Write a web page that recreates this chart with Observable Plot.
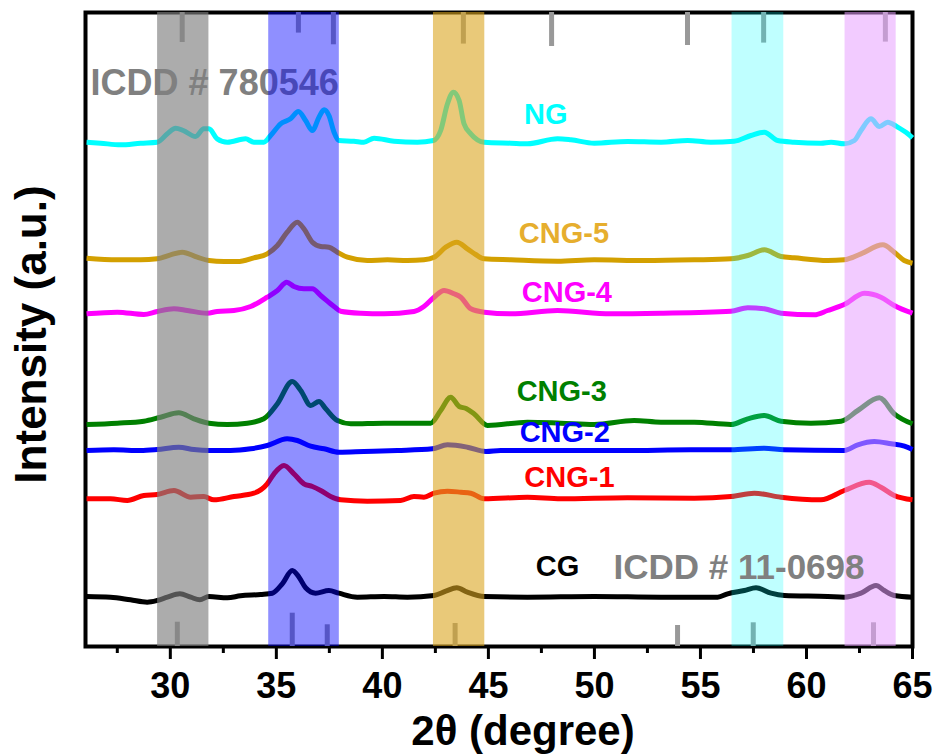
<!DOCTYPE html>
<html>
<head>
<meta charset="utf-8">
<script src="https://cdn.jsdelivr.net/npm/d3@7"></script>
<script src="https://cdn.jsdelivr.net/npm/@observablehq/plot@0.6"></script>
<style>
  body { margin: 0; background: #fff; }
</style>
</head>
<body>
<div id="chart"></div>
<script>
// XRD patterns: [2θ (degree), intensity (a.u., stacked with offsets)]
const NG = [[26.05,504.3],[26.71,503.3],[27.65,501.7],[28.60,503.3],[29.38,504.3],[29.86,512.7],[30.25,518.3],[30.61,516],[31.19,510],[31.58,517.7],[31.82,517.7],[32.21,507.7],[32.69,504.3],[33.55,507.7],[33.94,504.3],[34.41,504.3],[34.73,511],[35.20,522.7],[35.67,527.7],[36.04,535],[36.38,526],[36.70,516],[37.01,529.3],[37.25,536.7],[37.48,531],[37.72,514.3],[37.95,506],[38.66,505.3],[39.13,504.3],[39.61,508.3],[40.55,505.3],[41.65,504.3],[42.41,506],[42.75,516],[43.07,542.7],[43.35,554.3],[43.62,546],[43.85,522.7],[44.17,512.7],[44.80,504.3],[46.06,503.3],[46.84,502.7],[48.26,507.7],[48.89,506.7],[49.99,503.3],[51.56,505],[53.14,504.3],[54.40,506],[55.49,504.3],[56.59,505.3],[57.38,511],[58.01,514.3],[58.64,506],[59.42,504.3],[60.68,503.3],[61.16,504.3],[61.78,502.7],[62.26,506],[62.57,516],[63.04,527.7],[63.44,520],[63.83,524.3],[64.30,519.3],[64.78,512.7],[65.0,508.7]];

const CNG5 = [[26.05,388.3],[27.50,386.7],[28.60,386.7],[29.38,387.7],[30.01,391.7],[30.56,394.3],[31.27,389.3],[31.82,386],[32.53,385],[33.16,385],[33.94,388.7],[34.57,392.7],[35.05,401],[35.51,414.3],[35.99,424.3],[36.30,417.7],[36.70,404.3],[37.09,400],[37.48,399.3],[37.88,394.3],[38.35,389.3],[39.29,386],[40.24,386.7],[41.18,386],[41.96,386.7],[42.44,389.3],[42.99,399.3],[43.51,404.3],[44.01,397.7],[44.40,392],[44.80,387.7],[46.06,386.7],[48.26,385.3],[49.99,386.7],[52.35,386],[54.71,386.7],[56.44,387.7],[57.23,391],[58.01,396.7],[58.80,390],[59.42,388.7],[61.00,386],[61.78,386.7],[62.57,392.7],[63.60,401.7],[64.14,394.3],[64.61,386],[65.0,383.3]];

const CNG4 = [[26.05,332.7],[27.50,334.3],[28.75,332],[29.38,335],[30.17,337.7],[30.80,336],[31.74,333.3],[32.21,335],[33.00,336],[33.79,340],[34.57,349.3],[35.05,356],[35.49,364.3],[35.83,360],[36.30,357.7],[36.70,357.7],[37.09,351],[37.72,340],[38.03,335.3],[38.98,333.3],[40.08,332.7],[41.49,335],[41.96,340],[42.44,349.3],[42.91,356],[43.38,352.7],[43.70,349.3],[44.17,337.7],[44.80,334.3],[46.06,332.7],[48.26,336],[50.77,332.7],[53.14,333.3],[56.44,335.3],[57.23,338.7],[58.01,337.7],[58.80,333.3],[60.37,331.7],[61.00,336],[61.78,342],[62.73,353.3],[63.51,349.3],[64.14,341],[65.0,333.3]];

const CNG3 = [[26.05,222],[27.50,223.3],[28.75,225.3],[29.54,229.3],[30.40,233.7],[31.11,227.7],[31.82,223.3],[32.69,222],[33.63,223.3],[34.41,227.7],[35.05,242.7],[35.75,265],[36.15,256],[36.62,241],[37.01,245],[37.33,237.7],[37.88,226],[38.51,222.7],[40.08,223.3],[42.28,223.3],[42.75,236],[43.22,249.3],[43.62,240],[43.95,238],[44.32,232.7],[44.96,221],[46.84,224.3],[48.42,223.3],[49.99,222],[51.87,226],[53.14,224.3],[54.71,224.3],[56.44,222],[57.23,227.7],[58.01,231],[58.80,225.3],[60.21,223.3],[61.63,225.3],[62.42,236],[63.44,248.7],[64.14,232.7],[65.0,222.7]];

const CNG2 = [[26.05,196],[27.34,196.7],[28.60,196],[29.38,197],[30.40,199.3],[31.11,197],[31.82,196],[32.84,196],[33.79,197.7],[34.57,201],[35.51,207.7],[35.99,206],[36.62,200.3],[37.25,197.7],[37.95,194.3],[39.13,195],[40.71,196],[42.36,197.7],[43.07,201.7],[44.01,199.3],[44.88,195],[45.58,196],[48.26,196],[51.40,196],[54.55,196.7],[56.44,196.7],[58.01,198.3],[58.95,196.7],[61.78,196],[62.42,201.7],[63.20,205],[63.99,202.7],[64.62,200.3],[65.0,197]];

const CNG1 = [[26.05,147.7],[27.18,147.7],[27.97,146],[28.75,151],[29.38,152],[30.17,156],[30.96,149.3],[31.58,150],[32.05,146.7],[33.00,150],[33.94,153.3],[34.57,162.7],[34.89,172.7],[35.36,181],[35.83,172.7],[36.30,162.7],[36.70,160],[37.09,156],[37.56,150],[38.03,146.7],[39.29,145.3],[40.86,146],[41.49,150],[41.96,149.3],[42.44,153.3],[43.07,155.3],[43.70,154.3],[44.17,153.3],[44.80,147.7],[46.84,149.3],[48.42,147.7],[51.56,148.7],[54.71,148.3],[56.44,150],[57.54,153.3],[58.80,149.3],[60.68,146.7],[61.78,156],[62.96,164.3],[63.51,159.3],[64.14,151],[65.0,146.7]];

const CG = [[26.05,50],[27.18,49.3],[28.12,46.7],[28.91,44.3],[29.38,46],[29.86,49.3],[30.45,52.7],[30.96,49.3],[31.39,46.7],[31.82,50],[32.69,48.7],[33.31,50.7],[34.26,52],[34.81,53.3],[35.28,62.7],[35.75,76],[36.07,69.3],[36.38,58.7],[36.85,53.3],[37.48,56],[37.95,53.3],[38.82,49.3],[40.08,50],[41.18,49.3],[42.44,51],[42.99,55.3],[43.51,58.7],[44.01,54.3],[44.80,50],[46.84,49.3],[49.99,50],[53.14,49.3],[55.81,49.3],[56.28,52.7],[57.07,56],[57.62,58.7],[58.33,53.3],[58.96,51],[61.00,50],[61.78,49.3],[62.57,53.3],[63.28,61],[63.67,56],[64.14,51],[65.0,49.3]];

const sampleNames = ["NG", "CNG-5", "CNG-4", "CNG-3", "CNG-2", "CNG-1", "CG"];
const sampleData = [NG, CNG5, CNG4, CNG3, CNG2, CNG1, CG];

// Reference stick patterns (peak position, stick length in a.u.)
const ref780546Pos = [30.56, 36.04, 37.69, 43.82, 47.98, 54.39, 57.98, 63.72];
const ref780546Len = [30, 20.6, 32.3, 31.6, 34, 33, 30.6, 29.6];
const ref110698Pos = [30.33, 35.75, 37.40, 43.43, 53.92, 57.49, 63.16];
const ref110698Len = [24.3, 33.3, 21.7, 23, 21, 23.7, 23.7];

// Highlighted 2θ ranges
const bandLo = [29.40, 34.64, 42.41, 56.49, 61.82];
const bandHi = [31.82, 37.97, 44.83, 58.93, 64.23];

// Axis ticks
const majorTicks = [30, 35, 40, 45, 50, 55, 60, 65];
const minorTicks = [27.5, 32.5, 37.5, 42.5, 47.5, 52.5, 57.5, 62.5];

const xDomain = [26, 65];
const yDomain = [0, 634];

// ---- styling ----
const FONT = "Liberation Sans, Arial, Helvetica, sans-serif";
const lineColors = ["#00ffff", "#d3a000", "#ff00ff", "#008000", "#0000ff", "#ff0000", "#000000"];
const labelColors = ["#00ffff", "#e6ae2e", "#ff00ff", "#008000", "#0000ff", "#ff0000", "#000000"];
const labelPlace = [
  {x: 47.71, y: 523},
  {x: 48.56, y: 403.3},
  {x: 48.70, y: 345},
  {x: 48.46, y: 246},
  {x: 48.60, y: 204.3},
  {x: 48.82, y: 159.3},
  {x: 48.26, y: 71}
];
const bandFill = ["#808080", "#0000ff", "#daa520", "#00ffff", "#e8a0ff"];
const bandAlpha = [0.65, 0.44, 0.6, 0.25, 0.55];
const stickColor = "#999999";
const refTextColor = "#808080";

const [yBottom, yTop] = yDomain;

const curves = sampleData.map((pts, i) =>
  Plot.line(pts, {
    x: d => d[0], y: d => d[1],
    stroke: lineColors[i], strokeWidth: 5,
    curve: "monotone-x", strokeLinejoin: "round", strokeLinecap: "butt"
  })
);

const topSticks = Plot.ruleX(ref780546Pos.map((p, i) => ({p, len: ref780546Len[i]})), {
  x: "p", y1: d => yTop - d.len, y2: () => yTop,
  stroke: stickColor, strokeWidth: 5
});
const bottomSticks = Plot.ruleX(ref110698Pos.map((p, i) => ({p, len: ref110698Len[i]})), {
  x: "p", y1: () => yBottom, y2: d => yBottom + d.len,
  stroke: stickColor, strokeWidth: 5
});

const bands = bandLo.map((lo, i) =>
  Plot.rect([{lo, hi: bandHi[i]}], {
    x1: "lo", x2: "hi", y1: () => yBottom, y2: () => yTop,
    fill: bandFill[i], fillOpacity: bandAlpha[i]
  })
);

const sampleLabels = sampleNames.map((name, i) =>
  Plot.text([name], {
    x: () => labelPlace[i].x, y: () => labelPlace[i].y, text: d => d,
    fill: labelColors[i], fontSize: 29, fontWeight: "bold",
    textAnchor: "middle", lineAnchor: "bottom"
  })
);

const chart = Plot.plot({
  width: 934,
  height: 754,
  marginLeft: 85,
  marginRight: 22,
  marginTop: 12,
  marginBottom: 108,
  style: {fontFamily: FONT, background: "#fff"},
  x: {domain: xDomain},
  y: {domain: yDomain, axis: null},
  marks: [
    Plot.frame({stroke: "#000", strokeWidth: 4}),
    Plot.axisX(majorTicks, {
      tickSize: 13, strokeWidth: 3, tickPadding: 13,
      fontSize: 36, fontWeight: "bold", fill: "#000", label: null
    }),
    Plot.axisX(minorTicks, {tickSize: 7, strokeWidth: 3, text: null, label: null}),
    ...curves,
    topSticks,
    bottomSticks,
    Plot.text(["ICDD # 780546"], {
      x: () => 26.24, y: () => 551.7, text: d => d,
      fill: refTextColor, fontSize: 36, fontWeight: "bold",
      textAnchor: "start", lineAnchor: "bottom"
    }),
    ...bands,
    ...sampleLabels,
    Plot.text(["ICDD # 11-0698"], {
      x: () => 50.90, y: () => 67.7, text: d => d,
      fill: refTextColor, fontSize: 35, fontWeight: "bold",
      textAnchor: "start", lineAnchor: "bottom"
    }),
    Plot.text(["2θ (degree)"], {
      frameAnchor: "bottom", dx: 24, dy: 98, text: d => d,
      fill: "#000", fontSize: 42, fontWeight: "bold", lineAnchor: "bottom"
    }),
    Plot.text(["Intensity (a.u.)"], {
      frameAnchor: "left", dx: -54, dy: 5, rotate: -90, text: d => d,
      fill: "#000", fontSize: 44, fontWeight: "bold",
      textAnchor: "middle", lineAnchor: "middle"
    })
  ]
});

document.getElementById("chart").appendChild(chart);
</script>
</body>
</html>
